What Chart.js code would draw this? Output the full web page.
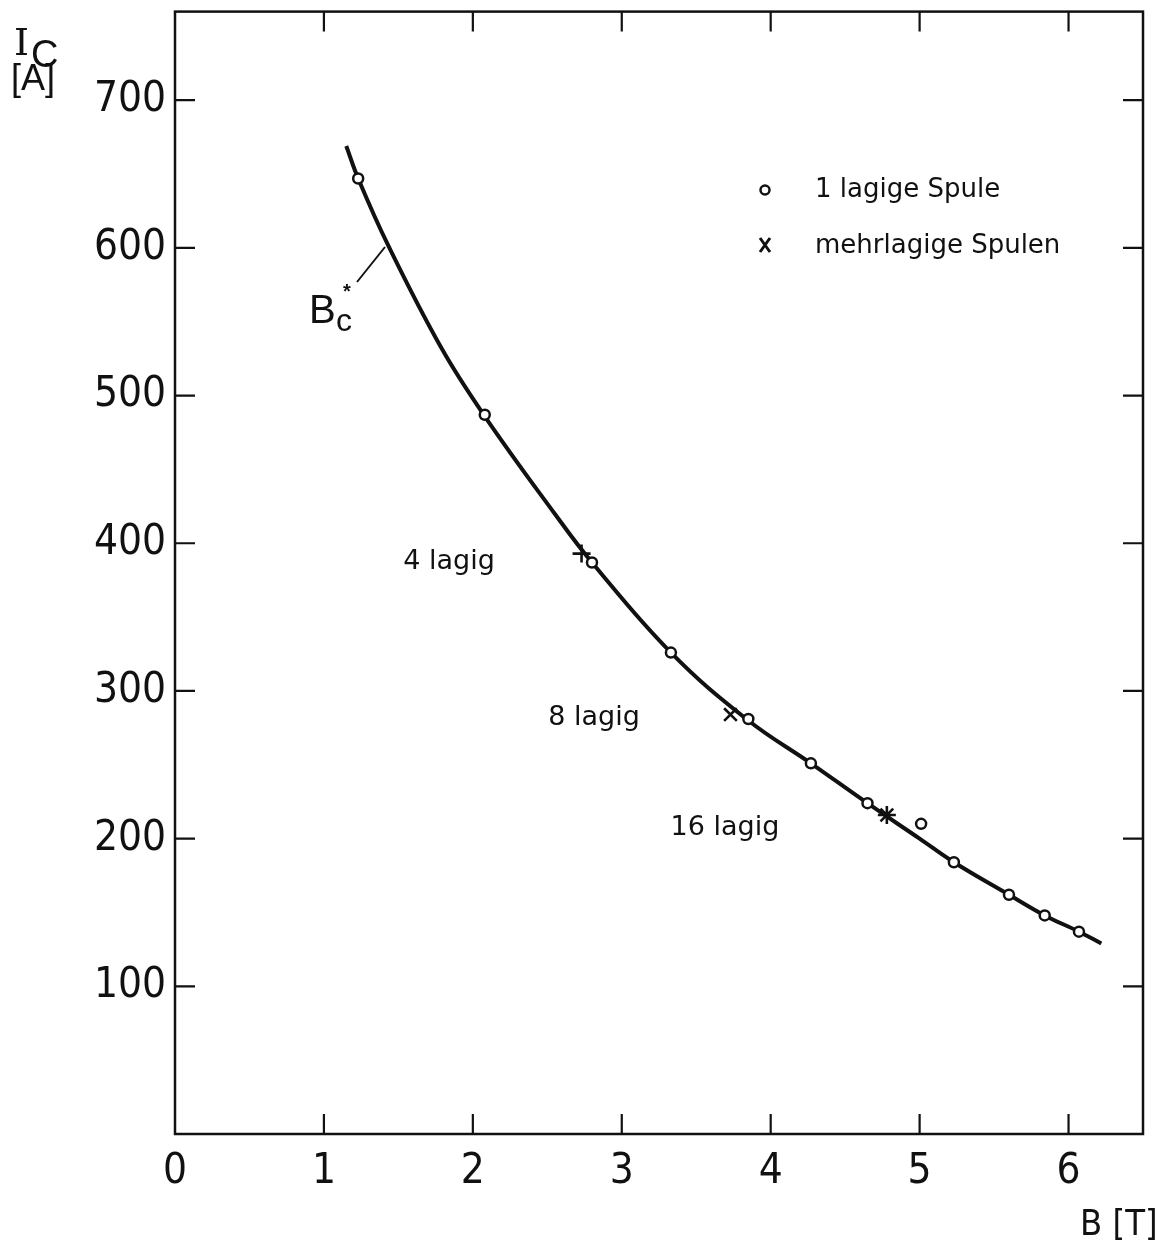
<!DOCTYPE html>
<html>
<head>
<meta charset="utf-8">
<script src="https://cdn.jsdelivr.net/npm/chart.js@4.4.1/dist/chart.umd.min.js"></script>
<style>
  html, body { margin: 0; padding: 0; background: #fff; }
  #wrap { width: 1157px; height: 1246px; }
</style>
</head>
<body>
<div id="wrap"><canvas id="c" width="1157" height="1246"></canvas></div>
<script>
// ---- data ----
const xTicks = [0, 1, 2, 3, 4, 5, 6];
const yTicks = [100, 200, 300, 400, 500, 600, 700];

// fitted curve drawn in the reference (B in T, Ic in A)
const curveB = [1.15, 1.23, 1.43, 1.79, 2.08, 2.55, 2.80, 3.33, 3.85, 4.27, 4.65, 5.00, 5.23, 5.60, 5.84, 6.07, 6.22];
const curveI = [669, 647, 602, 532, 486, 420, 387, 326, 280, 251, 224, 200, 184, 162, 148, 137, 129];

// 1 lagige Spule (circles)
const singleB = [1.23, 2.08, 2.80, 3.33, 3.85, 4.27, 4.65, 5.01, 5.23, 5.60, 5.84, 6.07];
const singleI = [647, 487, 387, 326, 281, 251, 224, 210, 184, 162, 148, 137];

// mehrlagige Spulen (crosses): 4, 8, 16 lagig
const multiB = [2.73, 3.73, 4.78];
const multiI = [393, 284, 216];
const multiStyles = ['cross', 'crossRot', 'star'];

const zip = (xs, ys) => xs.map((x, i) => ({ x: x, y: ys[i] }));

const INK = '#111';
const TICK_FONT = '"Liberation Sans Narrow", "DejaVu Sans Condensed", "Liberation Sans", sans-serif';
const TEXT_FONT = '"DejaVu Sans", "Noto Sans", sans-serif';

const framePlugin = {
  id: 'frame',
  beforeDraw(chart) {
    const ctx = chart.ctx;
    ctx.save();
    ctx.fillStyle = '#fff';
    ctx.fillRect(0, 0, chart.width, chart.height);
    ctx.restore();
  },
  afterDraw(chart) {
    const ctx = chart.ctx;
    const a = chart.chartArea;
    const xs = chart.scales.x, ys = chart.scales.y;
    ctx.save();
    ctx.strokeStyle = INK;
    ctx.lineCap = 'butt';
    // frame
    ctx.lineWidth = 2.5;
    ctx.strokeRect(a.left, a.top, a.right - a.left, a.bottom - a.top);
    // inward ticks
    ctx.lineWidth = 2.2;
    const TL = 20;
    xTicks.forEach(v => {
      if (v === 0) return;
      const px = xs.getPixelForValue(v);
      ctx.beginPath();
      ctx.moveTo(px, a.bottom); ctx.lineTo(px, a.bottom - TL);
      ctx.moveTo(px, a.top); ctx.lineTo(px, a.top + TL);
      ctx.stroke();
    });
    yTicks.forEach(v => {
      const py = ys.getPixelForValue(v);
      ctx.beginPath();
      ctx.moveTo(a.left, py); ctx.lineTo(a.left + TL, py);
      ctx.moveTo(a.right, py); ctx.lineTo(a.right - TL, py);
      ctx.stroke();
    });

    // axis titles
    ctx.fillStyle = INK;
    ctx.textAlign = 'left';
    ctx.textBaseline = 'alphabetic';
    ctx.font = '38px "DejaVu Serif", serif';
    ctx.fillText('I', 14, 55);
    ctx.font = '38px "Liberation Sans", sans-serif';
    ctx.fillText('C', 31, 67);
    ctx.font = '36px "Liberation Sans Narrow", "Liberation Sans", sans-serif';
    ctx.fillText('[A]', 11, 90);
    ctx.font = '36px ' + TICK_FONT;
    ctx.fillText('B [T]', 1080, 1235);

    // region labels
    ctx.font = '27px ' + TEXT_FONT;
    ctx.textAlign = 'center';
    ctx.textBaseline = 'middle';
    ctx.fillText('4 lagig', 449, 562);
    ctx.fillText('8 lagig', 594, 718);
    ctx.fillText('16 lagig', 725, 828);

    // Bc* label with leader line
    ctx.textAlign = 'left';
    ctx.textBaseline = 'alphabetic';
    ctx.font = '40px "Liberation Sans", sans-serif';
    ctx.fillText('B', 309, 323);
    ctx.font = '32px "Liberation Sans", sans-serif';
    ctx.fillText('c', 336, 331);
    ctx.font = 'bold 20px "Liberation Sans", sans-serif';
    ctx.textAlign = 'center';
    ctx.fillText('*', 347, 298);
    ctx.lineWidth = 2;
    ctx.beginPath();
    ctx.moveTo(357, 282); ctx.lineTo(385, 247);
    ctx.stroke();

    // legend
    ctx.lineWidth = 2.5;
    ctx.beginPath();
    ctx.arc(765, 190, 4.5, 0, Math.PI * 2);
    ctx.stroke();
    ctx.lineWidth = 3;
    ctx.beginPath();
    ctx.moveTo(760, 238); ctx.lineTo(770, 252);
    ctx.moveTo(770, 238); ctx.lineTo(760, 252);
    ctx.stroke();
    ctx.font = '26px ' + TEXT_FONT;
    ctx.textAlign = 'left';
    ctx.textBaseline = 'middle';
    ctx.fillText('1 lagige Spule', 815, 190);
    ctx.fillText('mehrlagige Spulen', 815, 246);
    ctx.restore();
  }
};

new Chart(document.getElementById('c'), {
  type: 'scatter',
  data: {
    datasets: [
      {
        label: 'Kurve',
        data: zip(curveB, curveI),
        showLine: true,
        borderColor: INK,
        borderWidth: 4,
        pointRadius: 0,
        tension: 0.4,
        order: 3
      },
      {
        label: '1 lagige Spule',
        data: zip(singleB, singleI),
        pointStyle: 'circle',
        pointRadius: 5,
        pointBorderWidth: 2.5,
        pointBackgroundColor: '#fff',
        pointBorderColor: INK,
        order: 1
      },
      {
        label: 'mehrlagige Spulen',
        data: zip(multiB, multiI),
        pointStyle: multiStyles,
        pointRadius: 9,
        pointBorderWidth: 2.6,
        pointBorderColor: INK,
        pointBackgroundColor: INK,
        order: 2
      }
    ]
  },
  options: {
    responsive: false,
    animation: false,
    layout: { padding: { top: 9, right: 14, left: 0, bottom: 0 } },
    plugins: { legend: { display: false }, tooltip: { enabled: false } },
    scales: {
      x: {
        type: 'linear',
        min: 0,
        max: 6.5,
        afterBuildTicks: s => { s.ticks = xTicks.map(v => ({ value: v })); },
        afterFit: s => { s.height = 112; s.paddingLeft = 0; s.paddingRight = 0; },
        grid: { display: false, drawTicks: false },
        border: { display: false },
        ticks: {
          color: INK,
          padding: 13,
          maxRotation: 0,
          font: { family: TICK_FONT, size: 42 },
          callback: v => String(v)
        }
      },
      y: {
        type: 'linear',
        min: 0,
        max: 760,
        afterBuildTicks: s => { s.ticks = yTicks.map(v => ({ value: v })); },
        afterFit: s => { s.width = 175; s.paddingTop = 0; s.paddingBottom = 0; },
        grid: { display: false, drawTicks: false },
        border: { display: false },
        ticks: {
          color: INK,
          padding: 9,
          font: { family: TICK_FONT, size: 42 },
          callback: v => String(v)
        }
      }
    }
  },
  plugins: [framePlugin]
});
</script>
</body>
</html>
